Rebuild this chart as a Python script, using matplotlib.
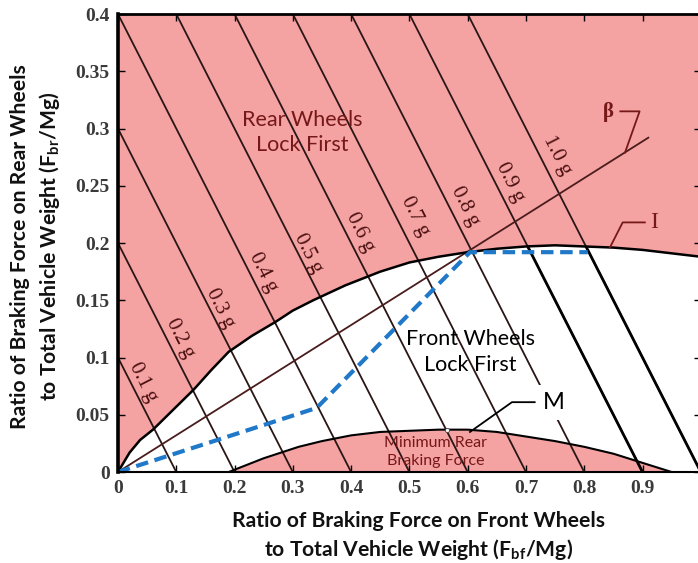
import numpy as np
import matplotlib.pyplot as plt
from matplotlib.patches import Polygon

plt.rcParams['mathtext.fontset'] = 'custom'
plt.rcParams['mathtext.rm'] = 'Lato:bold'
plt.rcParams['mathtext.it'] = 'Lato:bold'
plt.rcParams['mathtext.bf'] = 'Lato:bold'

# ideal braking curve I
i_x = [0, 0.02, 0.038, 0.06, 0.1, 0.13, 0.16, 0.19, 0.23, 0.27, 0.3, 0.335, 0.39, 0.45,
       0.5, 0.55, 0.6, 0.65, 0.7, 0.75, 0.8, 0.85, 0.9, 0.95, 1.0]
i_y = [0, 0.017, 0.028, 0.037, 0.057, 0.072, 0.089, 0.105, 0.119, 0.131, 0.141, 0.150,
       0.163, 0.175, 0.183, 0.188, 0.192, 0.195, 0.197, 0.198, 0.197, 0.196, 0.194, 0.191, 0.188]

# minimum rear braking force curve M
m_x = [0.19, 0.22, 0.25, 0.28, 0.31, 0.35, 0.4, 0.45, 0.5, 0.55, 0.6, 0.65, 0.7, 0.75,
       0.8, 0.85, 0.9, 0.95]
m_y = [0, 0.006, 0.012, 0.017, 0.022, 0.027, 0.032, 0.035, 0.036, 0.037, 0.037, 0.035,
       0.031, 0.027, 0.022, 0.016, 0.008, 0.0]

# actual proportioning (blue dashed)
p_x = [0, 0.341, 0.604, 0.806]
p_y = [0, 0.056, 0.192, 0.192]

# beta line end
beta_x = [0, 0.91]
beta_y = [0, 0.292]

g_levels = [0.1, 0.2, 0.3, 0.4, 0.5, 0.6, 0.7, 0.8, 0.9, 1.0]
g_labels = ["0.1 g", "0.2 g", "0.3 g", "0.4 g", "0.5 g", "0.6 g", "0.7 g", "0.8 g", "0.9 g", "1.0 g"]
g_label_pos = [(0.043, 0.078), (0.107, 0.117), (0.175, 0.143), (0.249, 0.174), (0.326, 0.191),
               (0.415, 0.209), (0.509, 0.223), (0.595, 0.232), (0.672, 0.253), (0.753, 0.277)]

xticks = [0, 0.1, 0.2, 0.3, 0.4, 0.5, 0.6, 0.7, 0.8, 0.9]
xtick_labels = ["0", "0.1", "0.2", "0.3", "0.4", "0.5", "0.6", "0.7", "0.8", "0.9"]
yticks = [0, 0.05, 0.1, 0.15, 0.2, 0.25, 0.3, 0.35, 0.4]
ytick_labels = ["0", "0.05", "0.1", "0.15", "0.2", "0.25", "0.3", "0.35", "0.4"]

pink = '#f5a2a2'
darkred = '#761818'
linecol = '#2a1616'

fig = plt.figure(figsize=(6.98, 5.63), dpi=100)
ax = fig.add_axes([0.169, 0.1616, 0.835, 0.8135])
ax.set_xlim(0, 1.0)
ax.set_ylim(0, 0.4)

# regions
ax.fill_between(i_x, i_y, 0.4, color=pink, lw=0, zorder=1)
ax.fill_between(m_x, 0, m_y, color=pink, lw=0, zorder=1)

# constant deceleration lines
white_poly = Polygon(list(zip(i_x, i_y)) + [(1.0, 0), (0, 0)], closed=True,
                     transform=ax.transData, fc='none', ec='none')
ax.add_patch(white_poly)
for a in g_levels:
    ax.plot([0, a], [a, 0], color=linecol, lw=1.3, zorder=2)
    if a >= 0.9:
        ln, = ax.plot([0, a], [a, 0], color='black', lw=2.0, zorder=2)
        ln.set_clip_path(white_poly)

for lab, (lx, ly) in zip(g_labels, g_label_pos):
    ax.text(lx, ly, lab, rotation=-45, transform_rotates_text=True, rotation_mode='anchor',
            ha='center', va='center', fontsize=15, family='Liberation Serif',
            color='#4a1010', zorder=4)

# beta line
ax.plot(beta_x, beta_y, color='#4a1c1c', lw=1.3, zorder=3)

# curves
ax.plot(i_x, i_y, color='black', lw=1.8, zorder=4)
ax.plot(m_x, m_y, color='black', lw=1.5, zorder=4)
ax.plot(p_x, p_y, color='#1f78c8', lw=3.0, dashes=(3, 1.6), zorder=5)
ax.plot([0.564], [0.037], marker='o', ms=3, mfc='white', mec='#444444', mew=0.6, zorder=6)

# region texts
ax.text(0.316, 0.2965, "Rear Wheels\nLock First", ha='center', va='center', fontsize=15.5,
        family='Lato', color=darkred, linespacing=1.35, zorder=6)
ax.text(0.605, 0.105, "Front Wheels\nLock First", ha='center', va='center', fontsize=15.5,
        family='Lato', color='black', linespacing=1.35, zorder=6)
ax.text(0.545, 0.0175, "Minimum Rear\nBraking Force", ha='center', va='center', fontsize=11.5,
        family='Lato', color=darkred, linespacing=1.4, zorder=6)

# leaders
ax.plot([0.862, 0.895, 0.870], [0.315, 0.315, 0.279], color=darkred, lw=1.3, zorder=6)
ax.text(0.842, 0.314, "β", ha='center', va='center', fontsize=15, family='Liberation Serif',
        weight='bold', color=darkred, zorder=6)
ax.plot([0.904, 0.866, 0.844], [0.218, 0.218, 0.196], color=darkred, lw=1.3, zorder=6)
ax.text(0.920, 0.218, "I", ha='center', va='center', fontsize=17, family='Liberation Serif',
        color=darkred, zorder=6)
ax.plot([0.715, 0.676, 0.604], [0.061, 0.061, 0.035], color='black', lw=1.3, zorder=6)
ax.text(0.748, 0.0605, "M", ha='center', va='center', fontsize=17, family='Lato',
        color='black', zorder=6,
        bbox=dict(boxstyle='square,pad=0.3', fc='white', ec='none'))

# axes styling
ax.set_xticks(xticks)
ax.set_xticklabels(xtick_labels)
ax.set_yticks(yticks)
ax.set_yticklabels(ytick_labels)
ax.tick_params(direction='in', length=5, width=1, top=True, right=True, pad=6)
for t in ax.get_xticklabels() + ax.get_yticklabels():
    t.set_fontfamily('Liberation Serif')
    t.set_fontweight('bold')
    t.set_fontsize(14)
    t.set_color('#3a3a3a')
ax.spines['left'].set_linewidth(2.6)
ax.spines['top'].set_linewidth(2.0)
ax.spines['bottom'].set_linewidth(1.5)
ax.spines['right'].set_visible(False)
for s in ax.spines.values():
    s.set_zorder(7)

fig.text(0.599, 0.047, "Ratio of Braking Force on Front Wheels\nto Total Vehicle Weight (F$_{bf}$/Mg)",
         ha='center', va='center', fontsize=15.2, family='Lato', weight='bold',
         linespacing=1.35, color='#111111')
fig.text(0.052, 0.562, "Ratio of Braking Force on Rear Wheels\nto Total Vehicle Weight (F$_{br}$/Mg)",
         ha='center', va='center', rotation=90, fontsize=15.2, family='Lato', weight='bold',
         linespacing=1.35, color='#111111')

fig.savefig("out.png", dpi=100)
